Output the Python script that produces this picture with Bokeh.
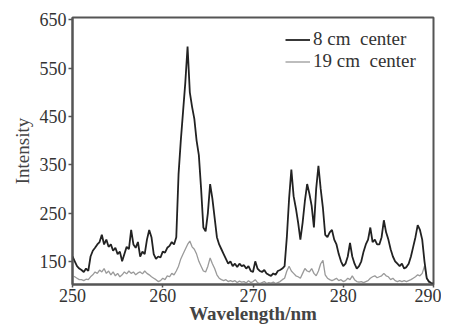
from bokeh.plotting import figure
from bokeh.models import Range1d, FixedTicker, Legend, LegendItem
from bokeh.embed import file_html
from bokeh.resources import INLINE

# sampling grid (nm), 0.25 nm steps
wavelength = [250 + 0.25 * i for i in range(161)]

# 8 cm center intensities
intensity_8cm = [
    160, 150, 140, 135,   # 250
    132, 128, 135, 130,   # 251
    160, 172, 178, 185,   # 252
    190, 205, 185, 195,   # 253
    180, 185, 172, 178,   # 254
    165, 170, 150, 165,   # 255
    180, 175, 215, 185,   # 256
    178, 190, 160, 170,   # 257
    165, 195, 215, 200,   # 258
    165, 155, 160, 158,   # 259
    170, 168, 178, 182,   # 260
    190, 185, 200, 330,   # 261
    400, 460, 520, 595,   # 262
    500, 470, 445, 400,   # 263
    370, 300, 220, 212,   # 264
    250, 310, 280, 240,   # 265
    200, 185, 175, 165,   # 266
    155, 145, 150, 140,   # 267
    145, 138, 145, 140,   # 268
    142, 135, 140, 130,   # 269
    128, 150, 135, 130,   # 270
    128, 132, 125, 122,   # 271
    120, 125, 122, 130,   # 272
    132, 135, 140, 200,   # 273
    280, 340, 285, 260,   # 274
    230, 195, 230, 275,   # 275
    310, 290, 265, 220,   # 276
    300, 348, 300, 260,   # 277
    205, 200, 210, 215,   # 278
    195, 185, 165, 150,   # 279
    140, 145, 160, 188,   # 280
    160, 145, 135, 140,   # 281
    150, 170, 185, 195,   # 282
    220, 190, 195, 185,   # 283
    185, 200, 235, 210,   # 284
    195, 175, 160, 150,   # 285
    145, 140, 145, 135,   # 286
    138, 145, 160, 180,   # 287
    200, 225, 215, 195,   # 288
    150, 115, 108, 105,   # 289
    104,                  # 290
]

# 19 cm center intensities
intensity_19cm = [
    120, 118, 115, 112,   # 250
    112, 110, 113, 112,   # 251
    118, 122, 128, 125,   # 252
    132, 128, 135, 125,   # 253
    130, 122, 128, 120,   # 254
    125, 118, 122, 128,   # 255
    124, 130, 125, 128,   # 256
    122, 126, 128, 124,   # 257
    130, 125, 122, 118,   # 258
    115, 112, 108, 110,   # 259
    115, 112, 120, 118,   # 260
    125, 122, 130, 140,   # 261
    155, 165, 175, 185,   # 262
    192, 180, 175, 165,   # 263
    150, 140, 130, 128,   # 264
    140, 157, 145, 135,   # 265
    122, 115, 112, 110,   # 266
    112, 108, 110, 108,   # 267
    110, 106, 109, 107,   # 268
    108, 105, 110, 106,   # 269
    108, 112, 106, 104,   # 270
    106, 108, 104, 106,   # 271
    105, 107, 104, 106,   # 272
    108, 112, 115, 130,   # 273
    140, 130, 125, 120,   # 274
    118, 115, 125, 135,   # 275
    130, 128, 135, 125,   # 276
    120, 130, 145, 152,   # 277
    122, 115, 112, 110,   # 278
    112, 115, 110, 112,   # 279
    108, 110, 115, 112,   # 280
    120, 112, 108, 107,   # 281
    108, 106, 108, 110,   # 282
    115, 118, 120, 116,   # 283
    118, 120, 125, 120,   # 284
    118, 112, 115, 110,   # 285
    108, 110, 108, 110,   # 286
    108, 110, 112, 115,   # 287
    118, 122, 120, 125,   # 288
    140, 115, 105, 103,   # 289
    103,                  # 290
]

x_ticks = [250, 260, 270, 280, 290]
y_ticks = [150, 250, 350, 450, 550, 650]
series_names = ["8 cm\u00a0 center", "19 cm\u00a0 center"]

FONT = "Liberation Serif"

p = figure(frame_width=361, frame_height=267,
           min_border_left=72, min_border_right=8, min_border_top=17, min_border_bottom=42,
           x_range=Range1d(250, 290), y_range=Range1d(102, 655),
           output_backend="svg", toolbar_location=None)

p.grid.visible = False
p.background_fill_color = "white"
p.border_fill_color = "white"
p.outline_line_color = "#555555"
p.outline_line_width = 2

for ax in (p.xaxis[0], p.yaxis[0]):
    ax.axis_line_color = "#555555"
    ax.axis_line_width = 2
    ax.major_tick_line_color = "#555555"
    ax.major_tick_line_width = 1.5
    ax.minor_tick_line_color = None
    ax.major_label_text_font = FONT
    ax.major_label_text_font_size = "18px"
    ax.major_label_text_color = "#333333"
    ax.axis_label_text_font = FONT
    ax.axis_label_text_font_size = "19px"
    ax.axis_label_text_font_style = "bold"
    ax.axis_label_text_color = "#444444"

p.xaxis.ticker = FixedTicker(ticks=x_ticks)
p.yaxis.ticker = FixedTicker(ticks=y_ticks)
p.xaxis.major_tick_out = 3
p.xaxis.major_tick_in = 0
p.yaxis.major_tick_out = 4
p.yaxis.major_tick_in = 0
p.xaxis.major_label_standoff = 1
p.yaxis.major_label_standoff = 2
p.xaxis.axis_label = "Wavelength/nm"
p.yaxis.axis_label = "Intensity"
p.xaxis.axis_label_standoff = -2
p.yaxis.axis_label_standoff = 4
p.yaxis.axis_label_text_font_style = "normal"

r19 = p.line(wavelength, intensity_19cm, line_color="#9a9a9a", line_width=1.3)
r8 = p.line(wavelength, intensity_8cm, line_color="#222222", line_width=1.8)

legend = Legend(items=[LegendItem(label=series_names[0], renderers=[r8]),
                       LegendItem(label=series_names[1], renderers=[r19])],
                location=(213, 212))
legend.border_line_color = None
legend.background_fill_alpha = 0
legend.label_text_font = FONT
legend.label_text_font_size = "19px"
legend.label_text_color = "#333333"
legend.glyph_width = 25
legend.label_standoff = 3
legend.spacing = 0
legend.label_height = 21
legend.glyph_height = 21
legend.padding = 2
legend.margin = 0
p.add_layout(legend)

open("out.html", "w").write(file_html(p, INLINE))
